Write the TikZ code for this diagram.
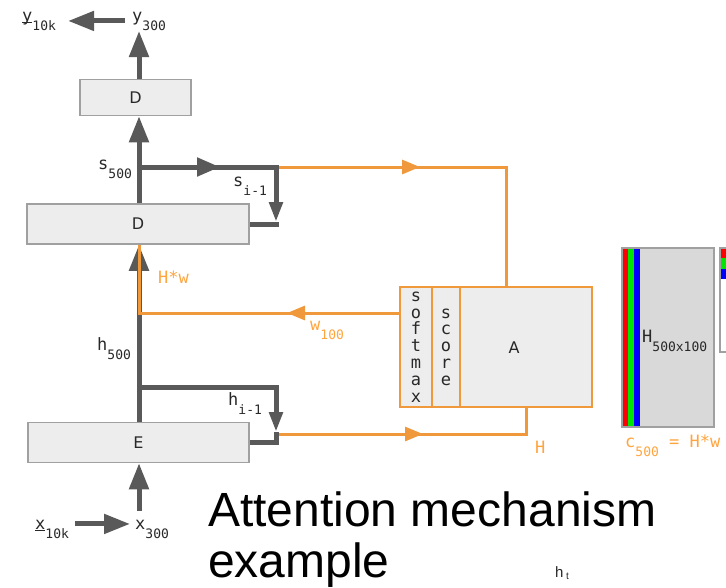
\documentclass[tikz,border=0pt]{standalone}
\usepackage{fontspec}
\setmainfont{Liberation Sans}
\setsansfont{DejaVu Sans}
\setmonofont{DejaVu Sans Mono}
\usetikzlibrary{arrows.meta,decorations.markings}

\definecolor{wiregray}{RGB}{89,89,89}
\definecolor{inkgray}{RGB}{40,40,40}
\definecolor{edgegray}{RGB}{160,160,160}
\definecolor{boxgray}{RGB}{237,237,237}
\definecolor{matgray}{RGB}{217,217,217}
\definecolor{attnorange}{RGB}{240,152,60}
\definecolor{labelorange}{RGB}{255,165,64}
\definecolor{stripgreen}{RGB}{0,230,0}

% letter with a lowered index, as in h_500
\newcommand{\vsub}[2]{#1\raisebox{-9pt}{\fontsize{13}{13}\selectfont #2}}
% bar along the baseline (under x and y)
\newcommand{\baseunder}[1]{\setbox0\hbox{#1}\rlap{\rule[-1.5pt]{\wd0}{1pt}}\box0}

\tikzset{
  netbox/.style={draw=edgegray, fill=boxgray, line width=1.5pt, inner sep=0pt,
    font=\sffamily\fontsize{16}{16}\selectfont, text=inkgray},
  attn/.style={draw=attnorange, fill=boxgray, line width=2pt, inner sep=0pt, align=center,
    font=\ttfamily\fontsize{17}{16.8}\selectfont, text=inkgray},
  lab/.style={inner sep=0pt, anchor=base west, font=\ttfamily\fontsize{17}{17}\selectfont, text=inkgray},
  olab/.style={lab, text=labelorange},
  wire/.style={draw=wiregray, line width=5pt},
  owire/.style={draw=attnorange, line width=3pt},
  bighead/.style={-{Triangle[length=26pt,width=19pt]}},
  smallhead/.style={-{Triangle[length=20pt,width=13pt]}},
  gmid/.style={postaction={decorate, decoration={markings,
    mark=at position #1 with {\arrow{Triangle[length=23pt,width=18pt]}}}}},
  omid/.style={postaction={decorate, decoration={markings,
    mark=at position #1 with {\arrow{Triangle[length=18pt,width=14pt]}}}}},
}

\begin{document}
\begin{tikzpicture}[x=1pt,y=-1pt]

  \useasboundingbox (0,0) rectangle (726,587);

  % decoder and encoder layers
  \node[netbox, minimum width=111pt, minimum height=36pt] (dtop) at (135.5,97.5) {D};
  \node[netbox, minimum width=222pt, minimum height=40pt] (dmid) at (138,224) {D};
  \node[netbox, minimum width=221pt, minimum height=40pt] (enc) at (138.5,442.5) {E};

  % attention block: softmax | score | A
  \node[attn, minimum width=32pt, minimum height=120pt] (smax) at (416,347) {s\\o\\f\\t\\m\\a\\x};
  \node[attn, minimum width=28pt, minimum height=120pt] (score) at (446,347) {s\\c\\o\\r\\e};
  \node[attn, minimum width=132pt, minimum height=120pt] (amat) at (526,347) {};
  \node[font=\sffamily\fontsize{16}{16}\selectfont, text=inkgray] (alab) at (514,348) {A};

  % branch points on the main column
  \coordinate (yout) at (139,31);
  \coordinate (xin) at (139,511);
  \coordinate (sfork) at (139,167);
  \coordinate (scorner) at (276,167);
  \coordinate (sfeed) at (276,222);
  \coordinate (hfork) at (139,387);
  \coordinate (hcorner) at (276,387);
  \coordinate (hfeed) at (276,432);
  \coordinate (hout) at (276,434);
  \coordinate (wjoin) at (139,313);

  % orange flow into and out of the attention block
  \draw[owire, omid=144pt] (scorner) -| ([xshift=-20pt]amat.north);
  \draw[owire, omid=147pt] (hout) -| (amat.south);

  % output side
  \node[lab] (y10k) at (22,21) {\vsub{\baseunder{y}}{10k}};
  \node[lab] (y300) at (132,21) {\vsub{y}{300}};
  \draw[wire, bighead] (dtop.north -| yout) -- (yout);
  \draw[wire, bighead] ([xshift=-7pt]y300.west) -- ([xshift=12pt]y10k.east);
  \draw[wire, bighead] (dmid.north -| yout) -- (dtop.south -| yout);

  % decoder state fed back
  \node[lab] (s500) at (98,169) {\vsub{s}{500}};
  \node[lab] (sprev) at (233,186) {\vsub{s}{i-1}};
  \draw[wire, gmid=81pt, smallhead] (sfork) -- (scorner) -- (sfeed);
  \draw[wire] (sfeed) |- (dmid.east);

  % encoder state fed back
  \node[lab] (h500) at (97,350) {\vsub{h}{500}};
  \node[lab] (hprev) at (228,405) {\vsub{h}{i-1}};
  \draw[wire, smallhead] (hfork) -- (hcorner) -- (hfeed);
  \draw[wire] (hfeed) |- (enc.east);

  % input side
  \node[lab] (x10k) at (35,529) {\vsub{\underline{x}}{10k}};
  \node[lab] (x300) at (135,529) {\vsub{x}{300}};
  \draw[wire, bighead] ([xshift=6pt,yshift=5pt]x10k.east) -- ([xshift=-5pt,yshift=5pt]x300.west);
  \draw[wire, bighead] (xin) -- (enc.south -| xin);
  \draw[wire, bighead] (enc.north -| yout) -- (dmid.south -| yout);

  % weighted sum back into the decoder
  \draw[owire, omid=112pt] (smax.west |- wjoin) -- (wjoin) -- (dmid.south -| wjoin);

  % orange labels
  \node[olab] (hw) at (158,283) {H*w};
  \node[olab] (w100) at (310,330) {\vsub{w}{100}};
  \node[olab] (hlab) at (535,453) {H};
  \node[olab] (ctx) at (625,447) {\vsub{c}{500} = H*w};

  % matrix H with its first columns
  \fill[matgray] (622,248) rectangle (714,427);
  \fill[red] (622,248) rectangle (628,427);
  \fill[stripgreen] (628,248) rectangle (634,427);
  \fill[blue] (634,248) rectangle (640,427);
  \draw[edgegray, line width=1.2pt] (622,248) rectangle (714,427);
  \node[lab] (hsize) at (642,342) {\vsub{H}{500x100}};

  % its transpose, cut by the edge
  \fill[white] (720,248) rectangle (745,352);
  \fill[red] (720,248) rectangle (745,258);
  \fill[stripgreen] (720,258) rectangle (745,269);
  \fill[blue] (720,269) rectangle (745,279);
  \draw[edgegray, line width=1.2pt] (720,248) rectangle (745,352);

  % caption
  \node[anchor=north west, align=left, inner sep=0pt, font=\fontsize{48}{51}\selectfont] (title)
    at (208,492) {Attention mechanism\\example};
  \node[anchor=base west, inner sep=0pt, font=\fontsize{15}{15}\selectfont, text=inkgray] (ht)
    at (555,577) {h\,\raisebox{-2pt}{\fontsize{10}{10}\selectfont t}};

\end{tikzpicture}
\end{document}
